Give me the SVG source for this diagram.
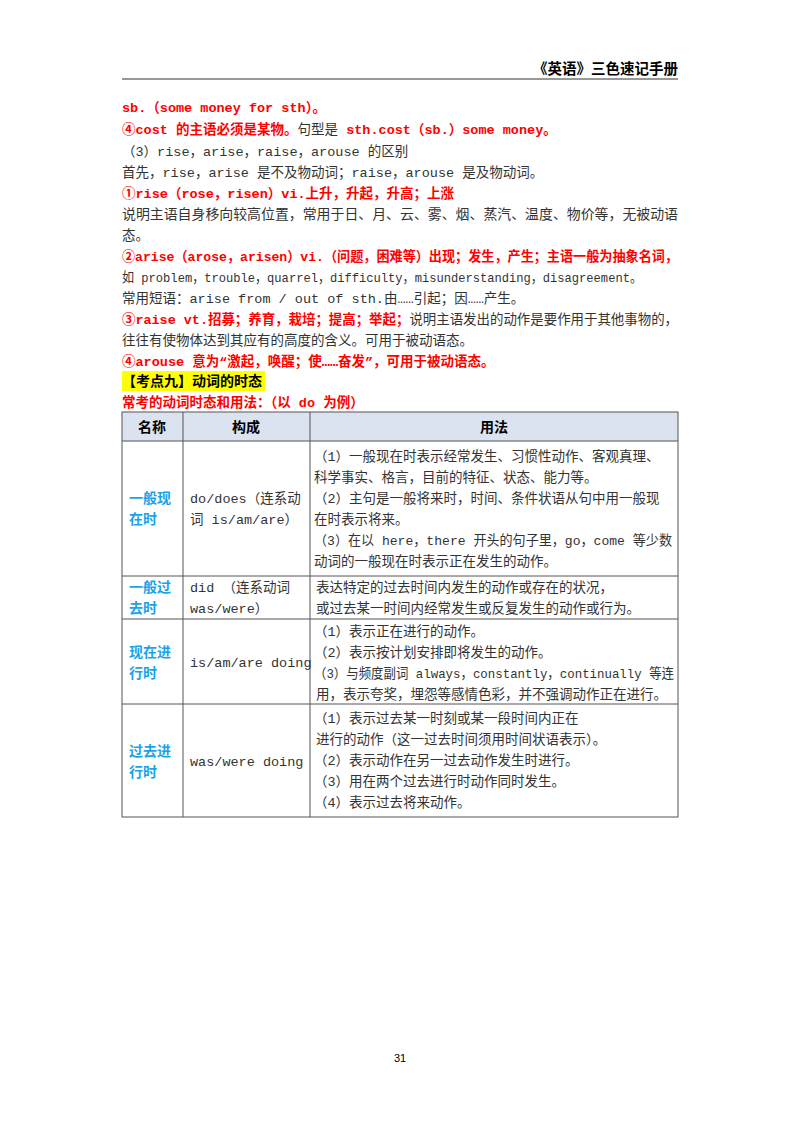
<svg xmlns="http://www.w3.org/2000/svg" width="800" height="1132" viewBox="0 0 800 1132">
<style>
text{font-family:"Liberation Mono","Noto Sans CJK SC",monospace;font-size:13.5px;fill:#333}
.r{fill:#ff0000;font-weight:bold}
.b{fill:#1aa3e8;font-weight:bold;font-size:14px;font-family:"Noto Sans CJK SC",sans-serif}
.h{font-weight:bold;fill:#000;font-size:14px;font-family:"Noto Sans CJK SC",sans-serif}
.g{stroke:#555;stroke-width:1;fill:none}
</style>
<rect width="800" height="1132" fill="#fff"/>
<text x="678" y="74" text-anchor="end" class="h" style="font-size:14.5px">《英语》三色速记手册</text>
<line x1="122" y1="79" x2="678" y2="79" stroke="#333" stroke-width="1"/>
<text x="122" y="112" class="r">sb.（some money for sth）。</text>
<text x="122" y="134"><tspan class="r">④cost 的主语必须是某物。</tspan>句型是 <tspan class="r">sth.cost（sb.）some money。</tspan></text>
<text x="122" y="156">（3）rise，arise，raise，arouse 的区别</text>
<text x="122" y="177">首先，rise，arise 是不及物动词；raise，arouse 是及物动词。</text>
<text x="122" y="198" class="r">①rise（rose，risen）vi.上升，升起，升高；上涨</text>
<text x="122" y="219" textLength="556" lengthAdjust="spacingAndGlyphs">说明主语自身移向较高位置，常用于日、月、云、雾、烟、蒸汽、温度、物价等，无被动语</text>
<text x="122" y="240">态。</text>
<text x="122" y="261" class="r" textLength="556" lengthAdjust="spacingAndGlyphs">②arise（arose，arisen）vi.（问题，困难等）出现；发生，产生；主语一般为抽象名词，</text>
<text x="122" y="282" textLength="520" lengthAdjust="spacingAndGlyphs">如 problem，trouble，quarrel，difficulty，misunderstanding，disagreement。</text>
<text x="122" y="303">常用短语：arise from / out of sth.由……引起；因……产生。</text>
<text x="122" y="324" textLength="556" lengthAdjust="spacingAndGlyphs"><tspan class="r">③raise vt.招募；养育，栽培；提高；举起；</tspan>说明主语发出的动作是要作用于其他事物的，</text>
<text x="122" y="345">往往有使物体达到其应有的高度的含义。可用于被动语态。</text>
<text x="122" y="366" class="r">④arouse 意为“激起，唤醒；使……奋发”，可用于被动语态。</text>
<rect x="122" y="371" width="143" height="20" fill="#ffff00"/>
<text x="122" y="386" class="h">【考点九】动词的时态</text>
<text x="122" y="407" class="r">常考的动词时态和用法：（以 do 为例）</text>
<g id="table">
<rect x="122" y="412" width="556" height="29" fill="#dce3f0"/>
<rect x="122" y="412" width="556" height="405" class="g"/>
<line x1="183" y1="412" x2="183" y2="817" class="g"/>
<line x1="310" y1="412" x2="310" y2="817" class="g"/>
<line x1="122" y1="441" x2="678" y2="441" class="g"/>
<line x1="122" y1="576" x2="678" y2="576" class="g"/>
<line x1="122" y1="619" x2="678" y2="619" class="g"/>
<line x1="122" y1="704" x2="678" y2="704" class="g"/>
<text x="152" y="432" text-anchor="middle" class="h">名称</text>
<text x="246" y="432" text-anchor="middle" class="h">构成</text>
<text x="494" y="432" text-anchor="middle" class="h">用法</text>
</g>
<g id="row1">
<text x="129" y="503" class="b">一般现</text><text x="129" y="524" class="b">在时</text>
<text x="190" y="503">do/does（连系动</text><text x="190" y="524">词 is/am/are）</text>
<text x="314" y="461">（1）一般现在时表示经常发生、习惯性动作、客观真理、</text>
<text x="314" y="482">科学事实、格言，目前的特征、状态、能力等。</text>
<text x="314" y="503">（2）主句是一般将来时，时间、条件状语从句中用一般现</text>
<text x="314" y="524">在时表示将来。</text>
<text x="314" y="545" textLength="358" lengthAdjust="spacingAndGlyphs">（3）在以 here，there 开头的句子里，go，come 等少数</text>
<text x="314" y="566">动词的一般现在时表示正在发生的动作。</text>
</g>
<g id="row2">
<text x="129" y="592" class="b">一般过</text><text x="129" y="613" class="b">去时</text>
<text x="190" y="592">did （连系动词</text><text x="190" y="613">was/were）</text>
<text x="316" y="592">表达特定的过去时间内发生的动作或存在的状况，</text>
<text x="316" y="613">或过去某一时间内经常发生或反复发生的动作或行为。</text>
</g>
<g id="row3">
<text x="129" y="657" class="b">现在进</text><text x="129" y="678" class="b">行时</text>
<text x="190" y="667">is/am/are doing</text>
<text x="314" y="636">（1）表示正在进行的动作。</text>
<text x="314" y="657">（2）表示按计划安排即将发生的动作。</text>
<text x="314" y="678" textLength="360" lengthAdjust="spacingAndGlyphs">（3）与频度副词 always，constantly，continually 等连</text>
<text x="316" y="699">用，表示夸奖，埋怨等感情色彩，并不强调动作正在进行。</text>
</g>
<g id="row4">
<text x="129" y="756" class="b">过去进</text><text x="129" y="777" class="b">行时</text>
<text x="190" y="766">was/were doing</text>
<text x="314" y="723">（1）表示过去某一时刻或某一段时间内正在</text>
<text x="316" y="744">进行的动作（这一过去时间须用时间状语表示）。</text>
<text x="314" y="765">（2）表示动作在另一过去动作发生时进行。</text>
<text x="314" y="786">（3）用在两个过去进行时动作同时发生。</text>
<text x="314" y="807">（4）表示过去将来动作。</text>
</g>
<text x="400" y="1062" text-anchor="middle" style="font-size:11px;fill:#000;font-family:'Liberation Sans',sans-serif">31</text>
</svg>
